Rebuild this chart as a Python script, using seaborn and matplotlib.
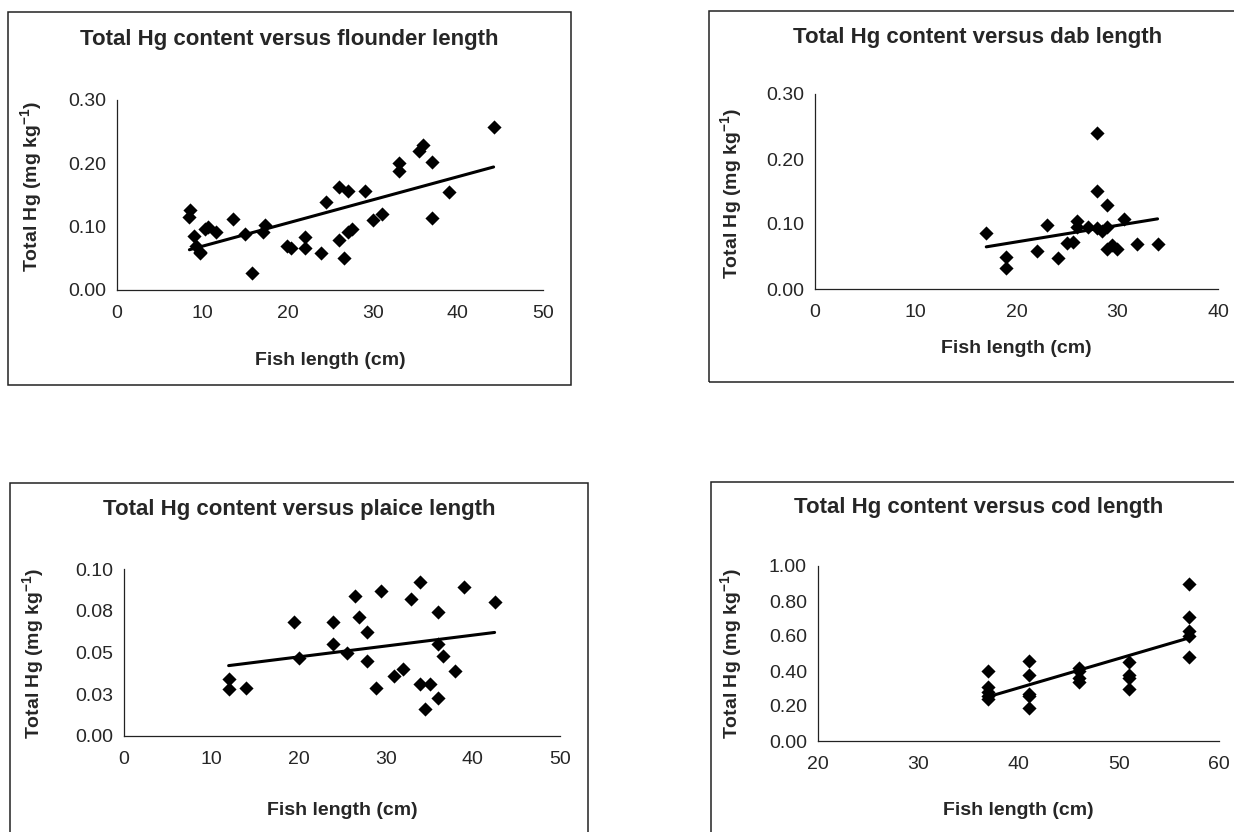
import numpy as np
import pandas as pd
import matplotlib
matplotlib.use("Agg")
import matplotlib.pyplot as plt
from matplotlib.patches import Rectangle
import seaborn as sns

# -------------------------
# Data
# -------------------------
flounder_len = [8.5, 8.6, 9.0, 9.3, 9.7, 9.8, 10.3, 10.7, 11.6, 13.6, 15.0, 15.9, 17.1, 17.4,
                20.0, 20.4, 22.1, 22.1, 24.0, 24.5, 26.1, 26.1, 27.1, 26.7, 27.1, 27.6,
                29.1, 30.0, 31.1, 33.1, 33.1, 35.5, 35.9, 37.0, 37.0, 39.0, 44.2]
flounder_hg = [0.116, 0.127, 0.085, 0.070, 0.060, 0.058, 0.096, 0.099, 0.091, 0.112, 0.088, 0.027,
               0.092, 0.103, 0.070, 0.066, 0.083, 0.066, 0.059, 0.139, 0.163, 0.079, 0.157, 0.050,
               0.091, 0.096, 0.157, 0.111, 0.120, 0.200, 0.188, 0.219, 0.229, 0.202, 0.113,
               0.155, 0.258]

dab_len = [17.0, 19.0, 19.0, 22.0, 23.0, 24.1, 25.0, 25.6, 26.0, 26.0, 27.1, 28.0, 28.0, 28.0,
           28.5, 29.0, 29.0, 29.0, 29.5, 30.0, 30.7, 32.0, 34.0]
dab_hg = [0.086, 0.050, 0.033, 0.058, 0.099, 0.048, 0.071, 0.072, 0.104, 0.095, 0.095, 0.240,
          0.151, 0.094, 0.089, 0.130, 0.095, 0.061, 0.067, 0.061, 0.107, 0.069, 0.070]

plaice_len = [12.0, 12.0, 14.0, 19.5, 20.1, 24.0, 24.0, 25.6, 26.5, 27.0, 27.9, 27.9, 28.9, 29.5,
              31.0, 32.0, 32.9, 34.0, 34.0, 35.1, 34.5, 36.0, 36.0, 36.0, 36.6, 38.0, 39.0, 42.5]
plaice_hg = [0.034, 0.028, 0.029, 0.068, 0.047, 0.068, 0.055, 0.050, 0.084, 0.071, 0.062, 0.045,
             0.029, 0.087, 0.036, 0.040, 0.082, 0.092, 0.031, 0.031, 0.016, 0.074, 0.055, 0.023,
             0.048, 0.039, 0.089, 0.080]

cod_len = [37, 37, 37, 37, 37, 41, 41, 41, 41, 41, 46, 46, 46, 46, 51, 51, 51, 51,
           57, 57, 57, 57, 57]
cod_hg = [0.40, 0.31, 0.28, 0.26, 0.24, 0.46, 0.38, 0.27, 0.26, 0.19, 0.42, 0.40, 0.36, 0.34,
          0.45, 0.38, 0.36, 0.30, 0.90, 0.71, 0.63, 0.60, 0.48]

flounder_yticks = [0.0, 0.1, 0.2, 0.3]
flounder_ylabels = ["0.00", "0.10", "0.20", "0.30"]
dab_yticks = [0.0, 0.1, 0.2, 0.3]
dab_ylabels = ["0.00", "0.10", "0.20", "0.30"]
plaice_yticks = [0.0, 0.025, 0.05, 0.075, 0.1]
plaice_ylabels = ["0.00", "0.03", "0.05", "0.08", "0.10"]
cod_yticks = [0.0, 0.2, 0.4, 0.6, 0.8, 1.0]
cod_ylabels = ["0.00", "0.20", "0.40", "0.60", "0.80", "1.00"]

# -------------------------
# Style
# -------------------------
W, H = 1234, 832
sns.set_style("white")
plt.rcParams["font.family"] = ["Liberation Sans", "DejaVu Sans"]
plt.rcParams["mathtext.fontset"] = "custom"
plt.rcParams["mathtext.rm"] = "Liberation Sans"
plt.rcParams["mathtext.bf"] = "Liberation Sans:bold"

fig = plt.figure(figsize=(W / 100, H / 100), dpi=100)

# panel layout in pixels: axes box (left, right, top, bottom), frame box, title, ylabel (x, y), xlabel y
panels = [
    dict(fish="flounder", x=flounder_len, y=flounder_hg, xlim=(0, 50), xt=range(0, 51, 10),
         ylim=(0, 0.3), yt=flounder_yticks, ytl=flounder_ylabels,
         box=(117, 543, 100, 290), frame=(8, 12, 571, 385), title=(289, 40), yl=(45, 186), xly=352),
    dict(fish="dab", x=dab_len, y=dab_hg, xlim=(0, 40), xt=range(0, 41, 10),
         ylim=(0, 0.3), yt=dab_yticks, ytl=dab_ylabels,
         box=(815, 1218, 94, 289), frame=(709, 11, 1240, 382), title=(978, 37), yl=(745, 193), xly=340),
    dict(fish="plaice", x=plaice_len, y=plaice_hg, xlim=(0, 50), xt=range(0, 51, 10),
         ylim=(0, 0.1), yt=plaice_yticks, ytl=plaice_ylabels,
         box=(124, 560, 569, 736), frame=(10, 483, 588, 840), title=(299, 510), yl=(47, 653), xly=802),
    dict(fish="cod", x=cod_len, y=cod_hg, xlim=(20, 60), xt=range(20, 61, 10),
         ylim=(0, 1.0), yt=cod_yticks, ytl=cod_ylabels,
         box=(818, 1219, 566, 741), frame=(711, 482, 1240, 840), title=(979, 508), yl=(745, 653), xly=802),
]

for p in panels:
    l, r, t, b = p["box"]
    ax = fig.add_axes([l / W, 1 - b / H, (r - l) / W, (b - t) / H])
    df = pd.DataFrame({"length": p["x"], "hg": p["y"]})
    sns.regplot(data=df, x="length", y="hg", ax=ax, ci=None, marker="D", color="black",
                scatter_kws={"s": 52, "linewidths": 0, "alpha": 1, "clip_on": False},
                line_kws={"linewidth": 2.2})
    ax.set_xlim(*p["xlim"])
    ax.set_ylim(*p["ylim"])
    ax.set_xticks(list(p["xt"]))
    ax.set_yticks(p["yt"])
    ax.set_yticklabels(p["ytl"])
    sns.despine(ax=ax)
    for s in ("left", "bottom"):
        ax.spines[s].set_color("#222222")
        ax.spines[s].set_linewidth(0.9)
    ax.tick_params(axis="x", direction="out", length=4, width=0.8, pad=7, labelsize=14,
                   color="#222222")
    ax.tick_params(axis="y", direction="out", length=3, width=0.8, pad=5, labelsize=14,
                   color="#222222")

    ax.set_xlabel("Fish length (cm)", fontsize=14, fontweight="bold")
    ax.set_ylabel(r"Total Hg (mg kg$^{\mathbf{-1}}$)", fontsize=14, fontweight="bold")
    ax.xaxis.set_label_coords(0.5, (b - p["xly"]) / (b - t))
    ylx, yly = p["yl"]
    ax.yaxis.set_label_coords((ylx - l) / (r - l), (b - yly) / (b - t))

    tx, ty = p["title"]
    ax.set_title(f"Total Hg content versus {p['fish']} length", fontsize=16, fontweight="bold",
                 x=(tx - l) / (r - l), y=(b - ty) / (b - t), va="center", pad=0)

    fx0, fy0, fx1, fy1 = p["frame"]
    fig.add_artist(Rectangle((fx0 / W, 1 - fy1 / H), (fx1 - fx0) / W, (fy1 - fy0) / H,
                             transform=fig.transFigure, fill=False, edgecolor="#222222",
                             linewidth=1.1))

fig.savefig("out.png", dpi=100)
